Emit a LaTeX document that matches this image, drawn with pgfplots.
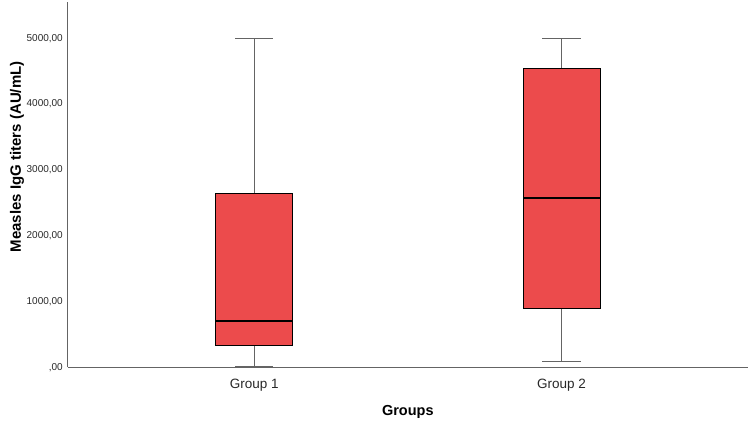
\documentclass[border=0pt]{standalone}
\usepackage{pgfplots}
\pgfplotsset{compat=1.18}
\usepgfplotslibrary{statistics}
\usepackage{fontspec}
\setmainfont{Liberation Sans}
\definecolor{boxred}{RGB}{236,75,76}
\definecolor{axgray}{RGB}{100,100,100}
\definecolor{labgray}{RGB}{40,40,40}
\begin{document}
\begin{tikzpicture}
\begin{axis}[
  at={(0,0)}, anchor=south west,
  scale only axis,
  width=679.7pt, height=365.3pt,
  xmin=0.394, xmax=2.606,
  ymin=0, ymax=5552,
  axis x line*=bottom, axis y line*=left,
  axis line style={axgray, line width=1pt, -},
  xtick={1,2}, xticklabels={Group 1, Group 2},
  ytick={0,1000,2000,3000,4000,5000},
  yticklabels={{,00},{1000,00},{2000,00},{3000,00},{4000,00},{5000,00}},
  major tick length=0pt,
  yticklabel style={font=\fontsize{10}{12}\selectfont, text=labgray, inner sep=0pt, xshift=-5pt},
  xticklabel style={font=\fontsize{13.5}{16}\selectfont, text=labgray, inner sep=0pt, yshift=-11.5pt},
  xlabel={\textbf{Groups}},
  ylabel={\textbf{Measles IgG titers (AU/mL)}},
  xlabel style={font=\fontsize{14.5}{17}\selectfont, at={(rel axis cs:0.5,0)}, anchor=center, yshift=-44.4pt},
  ylabel style={font=\fontsize{15}{18}\selectfont, at={(rel axis cs:0,0.576)}, anchor=center, yshift=51pt},
  boxplot/draw direction=y,
  boxplot/every whisker/.style={draw=axgray, line width=0.8pt},
  boxplot/every box/.style={draw=black, line width=0.8pt, fill=boxred},
  boxplot/every median/.style={draw=black, line width=2pt},
  clip=false,
]
\addplot+[draw=black, solid, mark=none, boxplot prepared={
  lower whisker=10, lower quartile=339, median=708,
  upper quartile=2649, upper whisker=5000,
  draw position=1, box extend=0.25, whisker extend=0.125}]
  coordinates {};
\addplot+[draw=black, solid, mark=none, boxplot prepared={
  lower whisker=96, lower quartile=897, median=2568,
  upper quartile=4544, upper whisker=5000,
  draw position=2, box extend=0.25, whisker extend=0.125}]
  coordinates {};
\end{axis}
\path[use as bounding box] (-68pt,-53.7pt) rectangle (682pt,367.3pt);
\end{tikzpicture}
\end{document}
